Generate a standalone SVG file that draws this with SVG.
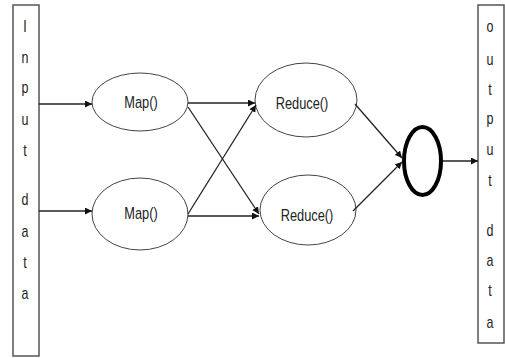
<svg xmlns="http://www.w3.org/2000/svg" width="505" height="358" viewBox="0 0 505 358">
<style>
.box{fill:#fff;stroke:#555;stroke-width:1.5}
.node{fill:#fff;stroke:#444;stroke-width:1}
.t{font-family:"Liberation Sans",Arial,sans-serif;font-size:16px;fill:#222;text-anchor:middle}
.c{stroke:#222;stroke-width:1.3;fill:none;marker-end:url(#ah)}
</style>
<defs>
<marker id="ah" viewBox="0 0 10 10" refX="10" refY="5" markerWidth="7" markerHeight="7" markerUnits="userSpaceOnUse" orient="auto">
<path d="M0,0 L10,5 L0,10 z" fill="#111"/>
</marker>
</defs>
<rect width="505" height="358" fill="#fff"/>
<g id="input">
<rect class="box" x="13" y="5" width="26" height="351"/>
<text class="t" transform="translate(25,32) scale(0.78,1)">I</text>
<text class="t" transform="translate(25,63) scale(0.78,1)">n</text>
<text class="t" transform="translate(25,93) scale(0.78,1)">p</text>
<text class="t" transform="translate(25,125) scale(0.78,1)">u</text>
<text class="t" transform="translate(25,156) scale(0.78,1)">t</text>
<text class="t" transform="translate(25,205) scale(0.78,1)">d</text>
<text class="t" transform="translate(25,237) scale(0.78,1)">a</text>
<text class="t" transform="translate(25,268) scale(0.78,1)">t</text>
<text class="t" transform="translate(25,299) scale(0.78,1)">a</text>
</g>
<g id="output">
<rect class="box" x="478" y="5" width="26" height="338"/>
<text class="t" transform="translate(490,32) scale(0.78,1)">o</text>
<text class="t" transform="translate(490,65) scale(0.78,1)">u</text>
<text class="t" transform="translate(490,95) scale(0.78,1)">t</text>
<text class="t" transform="translate(490,124) scale(0.78,1)">p</text>
<text class="t" transform="translate(490,155) scale(0.78,1)">u</text>
<text class="t" transform="translate(490,186) scale(0.78,1)">t</text>
<text class="t" transform="translate(490,236) scale(0.78,1)">d</text>
<text class="t" transform="translate(490,266) scale(0.78,1)">a</text>
<text class="t" transform="translate(490,296) scale(0.78,1)">t</text>
<text class="t" transform="translate(490,328) scale(0.78,1)">a</text>
</g>
<g id="map1">
<ellipse class="node" cx="140" cy="102" rx="48" ry="29"/>
<text class="t" transform="translate(141,108) scale(0.8,1)">Map()</text>
</g>
<g id="map2">
<ellipse class="node" cx="140" cy="214" rx="48" ry="36"/>
<text class="t" transform="translate(141,219) scale(0.8,1)">Map()</text>
</g>
<g id="reduce1">
<ellipse class="node" cx="306" cy="100" rx="51" ry="37"/>
<text class="t" transform="translate(302,109) scale(0.8,1)">Reduce()</text>
</g>
<g id="reduce2">
<ellipse class="node" cx="308" cy="210" rx="48" ry="35"/>
<text class="t" transform="translate(307,221) scale(0.8,1)">Reduce()</text>
</g>
<g id="combine">
<ellipse cx="422.5" cy="161" rx="18.5" ry="34" fill="#fff" stroke="#000" stroke-width="4"/>
</g>
<g id="connectors">
<line class="c" x1="39" y1="104" x2="92" y2="104"/>
<line class="c" x1="39" y1="211" x2="92" y2="211"/>
<line class="c" x1="188" y1="103" x2="255" y2="103"/>
<line class="c" x1="188" y1="107" x2="259" y2="214"/>
<line class="c" x1="188" y1="214" x2="256" y2="105"/>
<line class="c" x1="188" y1="216" x2="259" y2="216"/>
<line class="c" x1="355" y1="104" x2="402" y2="158"/>
<line class="c" x1="353" y1="211" x2="402" y2="162"/>
<line class="c" x1="443" y1="161" x2="478" y2="161"/>
</g>
</svg>
